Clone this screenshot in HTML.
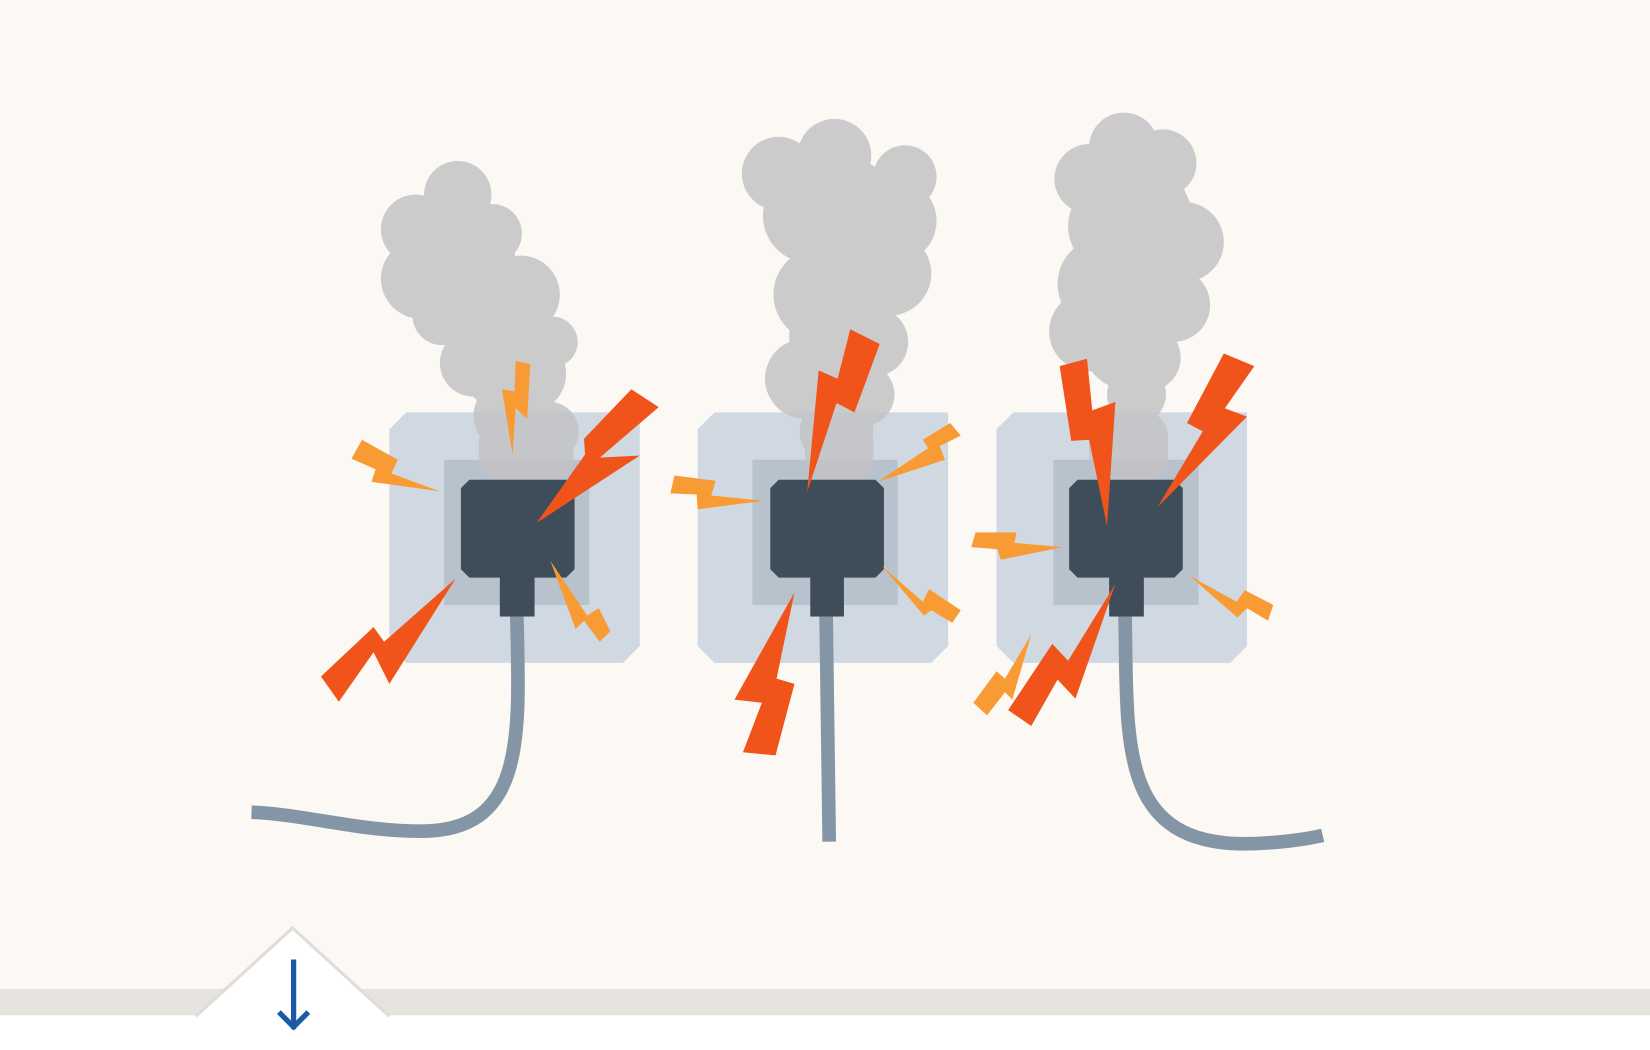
<!DOCTYPE html>
<html><head><style>html,body{margin:0;padding:0;background:#fcf9f4}svg{display:block}</style></head><body>
<svg width="1650" height="1050" viewBox="0 0 1568 998" preserveAspectRatio="none" xmlns="http://www.w3.org/2000/svg">
<rect width="1568" height="998" fill="#fcf9f4"/>
<rect y="940" width="1568" height="26" fill="#e7e4e0"/>
<rect y="965" width="1568" height="40" fill="#ffffff"/>
<polygon points="186,966 278,882 370,966" fill="#ffffff"/>
<polyline points="186,966 278,882 370,966" fill="none" stroke="#e0ddd9" stroke-width="3"/>
<line x1="279" y1="912" x2="279" y2="978" stroke="#1a5aa6" stroke-width="5"/>
<polyline points="265,962 279,976 293,962" fill="none" stroke="#1a5aa6" stroke-width="5"/>

<g fill="#d0d8e1">
<polygon points="386,392 608,392 608,614 592,630 386,630 370,614 370,408"/>
<polygon points="679,392 901,392 901,614 885,630 679,630 663,614 663,408"/>
<polygon points="963,392 1185,392 1185,614 1169,630 963,630 947,614 947,408"/>
</g>
<g fill="#b8c2cc">
<rect x="422" y="437" width="138" height="138"/>
<rect x="715" y="437" width="138" height="138"/>
<rect x="1001" y="437" width="138" height="138"/>
</g>

<g fill="none" stroke="#8496a6" stroke-width="13">
<path d="M491,580 C494,700 500,790 400,790 C340,790 290,774 239,772"/>
<path d="M785,580 L788,800"/>
<path d="M1069,580 C1072,700 1060,800 1180,802 C1210,802 1240,798 1257,794"/>
</g>

<g fill="#c4c3c6" opacity="0.85">
<circle cx="435" cy="185" r="32"/><circle cx="395" cy="218" r="33"/><circle cx="468" cy="222" r="28"/>
<circle cx="400" cy="265" r="38"/><circle cx="495" cy="280" r="37"/><circle cx="420" cy="300" r="28"/>
<circle cx="465" cy="300" r="45"/><circle cx="525" cy="325" r="24"/><circle cx="450" cy="345" r="32"/>
<circle cx="500" cy="355" r="38"/><circle cx="485" cy="395" r="35"/><circle cx="522" cy="410" r="28"/>
<ellipse cx="445" cy="250" rx="45" ry="55"/><ellipse cx="480" cy="340" rx="45" ry="50"/>
<rect x="455" y="400" width="90" height="55" rx="20"/>
<circle cx="740" cy="165" r="35"/><circle cx="793" cy="148" r="35"/><circle cx="860" cy="168" r="30"/>
<circle cx="770" cy="205" r="45"/><circle cx="850" cy="210" r="40"/><circle cx="780" cy="280" r="45"/>
<circle cx="845" cy="260" r="40"/><circle cx="830" cy="325" r="33"/><circle cx="765" cy="360" r="38"/>
<circle cx="820" cy="375" r="30"/><circle cx="795" cy="410" r="35"/><rect x="765" y="400" width="65" height="55" rx="20"/>
<ellipse cx="805" cy="220" rx="55" ry="70"/><ellipse cx="800" cy="320" rx="50" ry="60"/>
<circle cx="1068" cy="140" r="33"/><circle cx="1035" cy="170" r="33"/><circle cx="1105" cy="155" r="32"/>
<circle cx="1060" cy="215" r="45"/><circle cx="1125" cy="230" r="38"/><circle cx="1050" cy="270" r="45"/>
<circle cx="1115" cy="290" r="35"/><circle cx="1035" cy="315" r="38"/><circle cx="1090" cy="340" r="32"/>
<circle cx="1080" cy="375" r="28"/><rect x="1035" y="390" width="75" height="70" rx="25"/>
<ellipse cx="1080" cy="220" rx="55" ry="70"/><ellipse cx="1070" cy="315" rx="45" ry="55"/>
</g>

<g fill="#3f4d5a">
<polygon points="446,456 538,456 546,464 546,541 538,549 446,549 438,541 438,464"/><rect x="475" y="545" width="33" height="41"/>
<polygon points="740,456 832,456 840,464 840,541 832,549 740,549 732,541 732,464"/><rect x="770" y="545" width="32" height="41"/>
<polygon points="1024,456 1116,456 1124,464 1124,541 1116,549 1024,549 1016,541 1016,464"/><rect x="1054" y="545" width="33" height="41"/>
</g>

<g fill="#f0541a">
<polygon points="600,370 626,387 570,435 608,433 510,497 556,432 555,417"/>
<polygon points="433,550 370,650 355,620 322,667 305,643 355,596 365,610"/>
<polygon points="808,313 836,327 812,392 795,383 767,468 778,352 796,360"/>
<polygon points="755,563 738,645 755,650 737,718 706,715 724,668 698,665"/>
<polygon points="1007,348 1033,341 1038,390 1060,382 1052,500 1035,418 1018,419"/>
<polygon points="1163,336 1192,348 1164,388 1185,396 1100,482 1143,410 1128,402"/>
<polygon points="1060,555 1022,664 1005,646 980,690 958,675 1000,612 1015,628"/>
</g>
<g fill="#f99b34">
<polygon points="490,343 504,346 501,398 490,388 487,432 477,370 489,372"/>
<polygon points="344,418 378,437 372,450 418,467 353,458 357,446 334,436"/>
<polygon points="523,533 558,585 569,578 580,600 570,610 555,590 547,598"/>
<polygon points="641,452 680,457 676,471 726,476 663,484 662,470 637,469"/>
<polygon points="903,402 913,414 893,424 898,437 834,458 882,426 877,418"/>
<polygon points="838,538 877,572 883,560 913,580 905,592 885,580 878,585"/>
<polygon points="927,506 966,506 964,516 1010,520 951,532 948,522 923,520"/>
<polygon points="1130,547 1175,572 1183,561 1210,575 1205,590 1185,578 1176,587"/>
<polygon points="980,603 962,665 955,658 938,680 925,668 947,638 955,645"/>
</g>
</svg>
</body></html>
